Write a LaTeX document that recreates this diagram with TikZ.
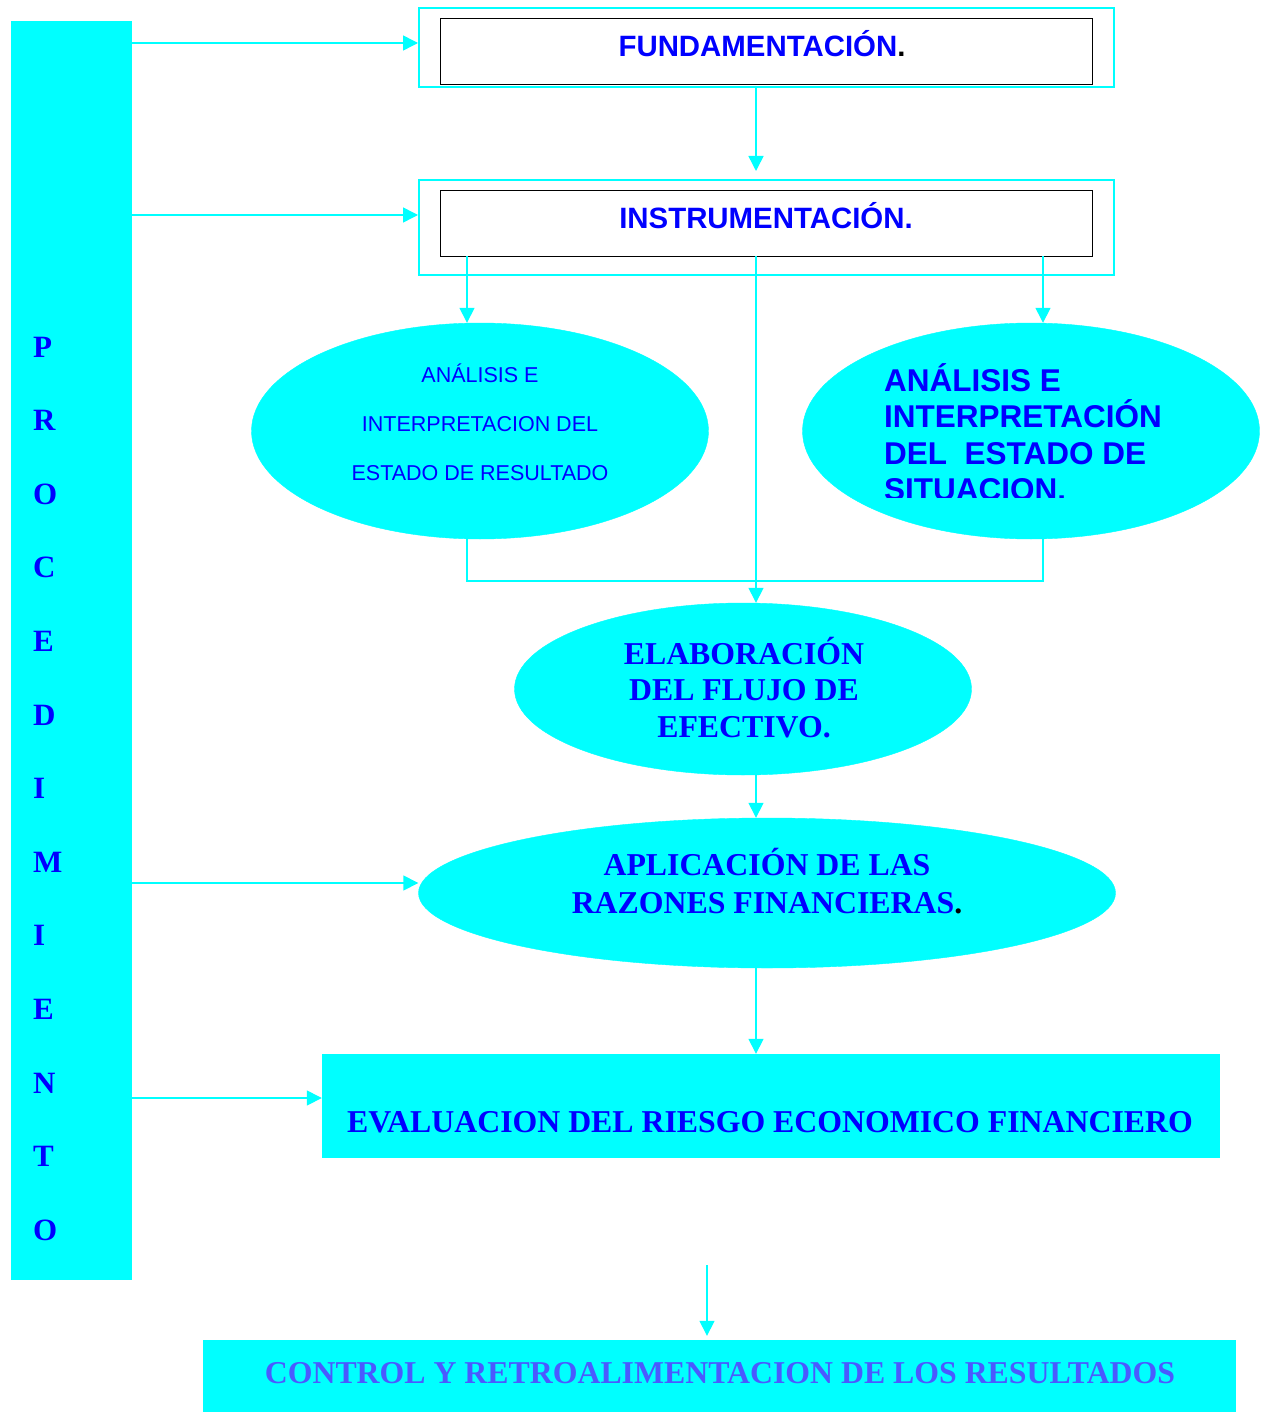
\documentclass[tikz,border=0pt]{standalone}
\usepackage{fontspec}
\setmainfont{Liberation Serif}
\setsansfont{Liberation Sans}
\usetikzlibrary{shapes.geometric,arrows.meta}
\definecolor{aqua}{RGB}{0,255,255}
\definecolor{txtblue}{RGB}{0,0,255}
\definecolor{ctrlblue}{RGB}{74,90,255}

\begin{document}
\begin{tikzpicture}[x=1pt,y=-1pt,
    line/.style={draw=aqua,line width=1.5pt},
    flow/.style={line,-{Triangle[length=15pt,width=15pt]}},
    frame/.style={draw=aqua,line width=2pt,inner sep=0pt},
    inbox/.style={draw=black,line width=0.9pt,fill=white,inner sep=0pt},
    blob/.style={ellipse,fill=aqua,draw=aqua,inner sep=0pt},
    slab/.style={fill=aqua,inner sep=0pt},
    sanslbl/.style={font=\sffamily\bfseries\fontsize{29.4}{31}\selectfont,text=txtblue,inner sep=0pt,anchor=base},
    seriflbl/.style={font=\bfseries\fontsize{31.8}{36.5}\selectfont,text=txtblue,inner sep=0pt,align=center},
    barletter/.style={font=\bfseries\fontsize{31}{31}\selectfont,text=txtblue,inner sep=0pt,anchor=base west}]
  \useasboundingbox[fill=white] (0,0) rectangle (1264,1412);

  \node[slab,minimum width=121pt,minimum height=1259pt] (bar) at (71.5,650.5) {};
  \foreach \ltr [count=\i] in {P,R,O,C,E,D,I,M,I,E,N,T,O}
    \node[barletter] (ltr\i) at (33,{357+73.6*(\i-1)}) {\ltr};

  \node[frame,minimum width=695pt,minimum height=79pt] (fundout) at (766.5,47.5) {};
  \node[inbox,minimum width=652pt,minimum height=66pt] (fundin) at (766,51) {};
  \node[sanslbl] (fundtxt) at (762,57) {FUNDAMENTACIÓN\textcolor{black}{.}};

  \node[frame,minimum width=695pt,minimum height=95pt] (instrout) at (766.5,227.5) {};
  \node[inbox,minimum width=652pt,minimum height=66pt] (instrin) at (766,223) {};
  \node[sanslbl] (instrtxt) at (766,229) {INSTRUMENTACIÓN.};

  \node[blob,minimum width=457pt,minimum height=216pt] (anres) at (480,431) {};
  \node[font=\sffamily\fontsize{21.5}{49}\selectfont,text=txtblue,align=center,inner sep=0pt]
    (anrestxt) at (480,422) {ANÁLISIS E\\INTERPRETACION DEL\\ESTADO DE RESULTADO};

  \node[blob,minimum width=457pt,minimum height=216pt] (ansit) at (1031,431) {};
  \begin{scope}
    \clip (790,300) rectangle (1264,497);
    \node[font=\sffamily\bfseries\fontsize{31.5}{36.5}\selectfont,text=txtblue,align=left,inner sep=0pt,anchor=north west]
      (ansittxt) at (884,363) {ANÁLISIS E\\INTERPRETACIÓN\\DEL\ \ ESTADO DE\\SITUACION.};
  \end{scope}

  \node[blob,minimum width=457pt,minimum height=172pt] (elab) at (743,689) {};
  \node[seriflbl,anchor=north] (elabtxt) at (744,637) {ELABORACIÓN\\DEL FLUJO DE\\EFECTIVO.};

  \node[blob,minimum width=697pt,minimum height=150pt] (aplic) at (767,893) {};
  \node[seriflbl,font=\bfseries\fontsize{31.8}{38}\selectfont,anchor=north] (aplictxt) at (767,848)
    {APLICACIÓN DE LAS\\RAZONES FINANCIERAS\textcolor{black}{.}};

  \node[slab,minimum width=898pt,minimum height=104pt] (evalbox) at (771,1106) {};
  \node[seriflbl,anchor=base] (evaltxt) at (770,1132) {EVALUACION DEL RIESGO ECONOMICO FINANCIERO};

  \node[slab,minimum width=1033pt,minimum height=72pt] (ctrlbox) at (719.5,1376) {};
  \node[seriflbl,anchor=base,text=ctrlblue] (ctrltxt) at (720,1383) {CONTROL Y RETROALIMENTACION DE LOS RESULTADOS};

  \coordinate (b1) at (132,43);
  \coordinate (b2) at (132,215);
  \coordinate (b3) at (132,883);
  \coordinate (b4) at (132,1098);
  \coordinate (sp) at (756,0);
  \coordinate (l1) at (467,258);
  \coordinate (r1) at (1043,258);
  \coordinate (jl) at (467,581);
  \coordinate (jr) at (1043,581);
  \coordinate (loose) at (707,1265);

  \draw[flow] (b1) -- (b1 -| fundout.west);
  \draw[flow] (b2) -- (b2 -| instrout.west);
  \draw[flow] (b3) -- (b3 -| aplic.west);
  \draw[flow] (b4) -- (b4 -| evalbox.west);

  \draw[flow,shorten >=8pt] (fundout.south -| sp) -- (instrout.north -| sp);
  \draw[flow] (instrin.south -| l1) -- (l1 |- anres.north);
  \draw[flow] (instrin.south -| r1) -- (r1 |- ansit.north);
  \draw[flow] (instrin.south -| sp) -- (elab.north -| sp);
  \draw[line] (anres.south -| jl) -- (jl) -- (jr) -- (ansit.south -| jr);
  \draw[flow] (elab.south -| sp) -- (aplic.north -| sp);
  \draw[flow] (aplic.south -| sp) -- (evalbox.north -| sp);
  \draw[flow,shorten >=4pt] (loose) -- (loose |- ctrlbox.north);
\end{tikzpicture}
\end{document}
